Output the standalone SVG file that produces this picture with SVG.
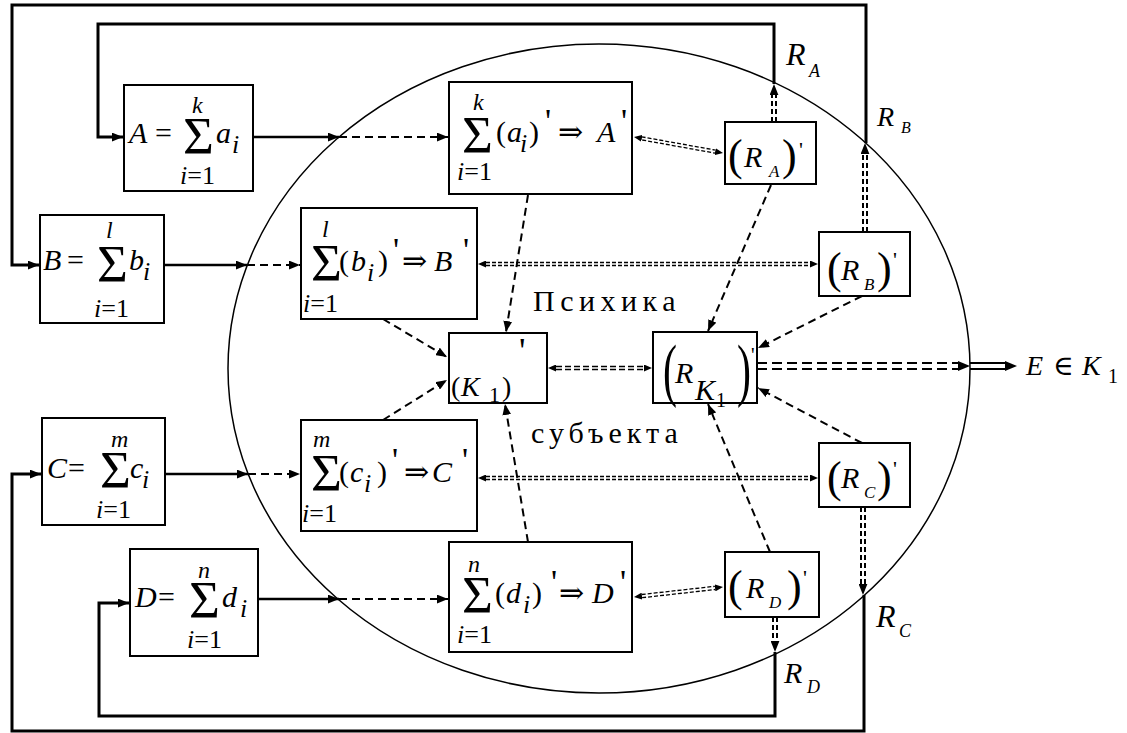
<svg xmlns="http://www.w3.org/2000/svg" width="1127" height="733" viewBox="0 0 1127 733" font-family="'Liberation Serif', 'Times New Roman', 'DejaVu Serif', serif">
<style>
.box{fill:#fff;stroke:#000;stroke-width:2}
.fb{fill:none;stroke:#000;stroke-width:3}
.so{fill:none;stroke:#000;stroke-width:2.5}
.da{fill:none;stroke:#000;stroke-width:2;stroke-dasharray:8 5}
.dd{fill:none;stroke:#000;stroke-width:1.3;stroke-dasharray:4 2}
.dv{fill:none;stroke:#000;stroke-width:2;stroke-dasharray:5 3}
.dk{fill:none;stroke:#000;stroke-width:1.6;stroke-dasharray:6 3}
.de{fill:none;stroke:#000;stroke-width:2.2;stroke-dasharray:10 5}
.sd{fill:none;stroke:#000;stroke-width:2}
.g{fill:none;stroke:none}
.i{font-style:italic}
.f16{font-size:16px}.f17{font-size:17px}.f18{font-size:18px}.f20{font-size:20px}.f22{font-size:22px}
.f24{font-size:24px}.f26{font-size:26px}.f28{font-size:28px}.f30{font-size:30px}.f32{font-size:32px}
.pr{font-size:34px}
.sig{font-size:53px}
.par{font-size:44px}
.lbl{font-size:30px;letter-spacing:5.5px}
.lbl2{font-size:30px;letter-spacing:5px}
</style>
<defs>
<marker id="ah" viewBox="0 0 10 8" refX="10" refY="4" markerWidth="11" markerHeight="9" markerUnits="userSpaceOnUse" orient="auto-start-reverse"><path d="M0,0L10,4L0,8z" fill="#000"/></marker>
<marker id="ahs" viewBox="0 0 8 7" refX="8" refY="3.5" markerWidth="8" markerHeight="7" markerUnits="userSpaceOnUse" orient="auto-start-reverse"><path d="M0,0L8,3.5L0,7z" fill="#000"/></marker>
<marker id="ahl" viewBox="0 0 12 10" refX="12" refY="5" markerWidth="12" markerHeight="10" markerUnits="userSpaceOnUse" orient="auto-start-reverse"><path d="M0,0L12,5L0,10z" fill="#000"/></marker>
</defs>
<rect width="1127" height="733" fill="#fff"/>
<ellipse id="psyche" cx="599" cy="368.5" rx="371" ry="324.5" fill="none" stroke="#000" stroke-width="1.5"/>
<g id="connectors">
<path class="fb" d="M774,84 V24 H98 V137 H123" marker-end="url(#ah)"/>
<path class="fb" d="M866,143 V5 H12 V265 H39" marker-end="url(#ah)"/>
<path class="fb" d="M864,595 V731 H12 V474 H41" marker-end="url(#ah)"/>
<path class="fb" d="M775,652 V716 H99 V603 H129" marker-end="url(#ah)"/>
<path class="so" d="M253,137 H339" marker-end="url(#ah)"/>
<path class="so" d="M164,265 H247" marker-end="url(#ah)"/>
<path class="so" d="M165,474 H248" marker-end="url(#ah)"/>
<path class="so" d="M258,599 H339" marker-end="url(#ah)"/>
<path class="da" d="M339,137 H448" marker-end="url(#ah)"/>
<path class="da" d="M247,265 H300" marker-end="url(#ah)"/>
<path class="da" d="M248,474 H300" marker-end="url(#ah)"/>
<path class="da" d="M339,599 H448" marker-end="url(#ah)"/>
<path class="da" d="M528,195 L506,332" marker-end="url(#ah)"/>
<path class="da" d="M771,185 L708,331" marker-end="url(#ah)"/>
<path class="da" d="M383,319 L447,357" marker-end="url(#ah)"/>
<path class="da" d="M383,420 L447,380" marker-end="url(#ah)"/>
<path class="da" d="M528,542 L505,404" marker-end="url(#ah)"/>
<path class="da" d="M862,296 L758,348" marker-end="url(#ah)"/>
<path class="da" d="M862,443 L758,388" marker-end="url(#ah)"/>
<path class="da" d="M770,552 L708,404" marker-end="url(#ah)"/>
<path class="dv" d="M772,122 V94 M776,122 V94"/>
<path class="g" d="M774,122 V84" marker-end="url(#ah)"/>
<path class="dv" d="M863,232 V153 M867,232 V153"/>
<path class="g" d="M865,232 V143" marker-end="url(#ah)"/>
<path class="dv" d="M861,507 V585 M865,507 V585"/>
<path class="g" d="M863,507 V595" marker-end="url(#ah)"/>
<path class="dv" d="M773,617 V642 M777,617 V642"/>
<path class="g" d="M775,617 V652" marker-end="url(#ah)"/>
<path class="dk" d="M556,366.5 H644 M556,369.5 H644"/>
<path class="g" d="M548,368 H652" marker-start="url(#ahs)" marker-end="url(#ahs)"/>
<path class="de" d="M757,363 H958 M757,369 H958"/>
<path class="g" d="M757,366 H970" marker-end="url(#ahl)"/>
<path class="sd" d="M970,363 H1006 M970,369 H1006"/>
<path class="g" d="M970,366 H1017" marker-end="url(#ahl)"/>
<path class="dd" d="M486,262.5 H810 M486,265.5 H810"/>
<path class="g" d="M478,264 H818" marker-start="url(#ahs)" marker-end="url(#ahs)"/>
<path class="dd" d="M486,476.5 H810 M486,479.5 H810"/>
<path class="g" d="M478,478 H818" marker-start="url(#ahs)" marker-end="url(#ahs)"/>
<path class="dd" d="M641.6,136.8 L714.8,150 M642.2,140 L715.4,153.2"/>
<path class="g" d="M634,137 L723,153" marker-start="url(#ahs)" marker-end="url(#ahs)"/>
<path class="dd" d="M641.7,594.5 L714.9,586.3 M642.1,597.7 L715.3,589.5"/>
<path class="g" d="M634,597 L723,587" marker-start="url(#ahs)" marker-end="url(#ahs)"/>
</g>
<g id="nodeA">
<rect class="box" x="124" y="85" width="129" height="106"/>
<text class="i f30" x="129" y="143">A</text>
<text class="f30" x="155" y="143">=</text>
<text class="sig" x="183" y="154">Σ</text>
<text class="i f30" x="216" y="143">a</text>
<text class="i f26" x="232" y="153">i</text>
<text class="i f24" x="192" y="113">k</text>
<text class="f26" x="180" y="184"><tspan class="i">i</tspan>=1</text>
</g>
<g id="nodeB">
<rect class="box" x="40" y="215" width="124" height="108"/>
<text class="i f30" x="43" y="270">B</text>
<text class="f30" x="67" y="270">=</text>
<text class="sig" x="97" y="282">Σ</text>
<text class="i f30" x="129" y="270">b</text>
<text class="i f26" x="143" y="280">i</text>
<text class="i f24" x="106" y="238">l</text>
<text class="f26" x="94" y="317"><tspan class="i">i</tspan>=1</text>
</g>
<g id="nodeC">
<rect class="box" x="42" y="418" width="123" height="107"/>
<text class="i f30" x="47" y="478">C</text>
<text class="f30" x="68" y="478">=</text>
<text class="sig" x="100" y="488">Σ</text>
<text class="i f30" x="130" y="478">c</text>
<text class="i f26" x="142" y="488">i</text>
<text class="i f24" x="111" y="447">m</text>
<text class="f26" x="96" y="518"><tspan class="i">i</tspan>=1</text>
</g>
<g id="nodeD">
<rect class="box" x="130" y="549" width="128" height="107"/>
<text class="i f30" x="135" y="607">D</text>
<text class="f30" x="158" y="607">=</text>
<text class="sig" x="189" y="618">Σ</text>
<text class="i f30" x="222" y="607">d</text>
<text class="i f26" x="240" y="617">i</text>
<text class="i f24" x="198" y="578">n</text>
<text class="f26" x="187" y="648"><tspan class="i">i</tspan>=1</text>
</g>
<g id="nodeA2">
<rect class="box" x="449" y="82" width="183" height="112"/>
<text class="i f24" x="473" y="110">k</text>
<text class="sig" x="462" y="153">Σ</text>
<text class="f30" x="496" y="142">(</text>
<text class="i f30" x="507" y="142">a</text>
<text class="i f26" x="520" y="152">i</text>
<text class="f30" x="529" y="142">)</text>
<text class="pr" x="545" y="132">'</text>
<text class="f30" x="558" y="142">⇒</text>
<text class="i f30" x="597" y="142">A</text>
<text class="pr" x="621" y="132">'</text>
<text class="f26" x="457" y="180"><tspan class="i">i</tspan>=1</text>
</g>
<g id="nodeB2">
<rect class="box" x="301" y="208" width="176" height="111"/>
<text class="i f24" x="322" y="237">l</text>
<text class="sig" x="311" y="281">Σ</text>
<text class="f30" x="339" y="271">(</text>
<text class="i f30" x="351" y="271">b</text>
<text class="i f26" x="367" y="281">i</text>
<text class="f30" x="378" y="271">)</text>
<text class="pr" x="393" y="261">'</text>
<text class="f30" x="402" y="271">⇒</text>
<text class="i f30" x="434" y="271">B</text>
<text class="pr" x="463" y="261">'</text>
<text class="f26" x="303" y="312"><tspan class="i">i</tspan>=1</text>
</g>
<g id="nodeC2">
<rect class="box" x="301" y="420" width="176" height="111"/>
<text class="i f24" x="313" y="447">m</text>
<text class="sig" x="311" y="491">Σ</text>
<text class="f30" x="339" y="482">(</text>
<text class="i f30" x="350" y="482">c</text>
<text class="i f26" x="364" y="492">i</text>
<text class="f30" x="377" y="482">)</text>
<text class="pr" x="392" y="471">'</text>
<text class="f30" x="404" y="482">⇒</text>
<text class="i f30" x="432" y="482">C</text>
<text class="pr" x="462" y="471">'</text>
<text class="f26" x="302" y="522"><tspan class="i">i</tspan>=1</text>
</g>
<g id="nodeD2">
<rect class="box" x="449" y="542" width="183" height="110"/>
<text class="i f24" x="468" y="572">n</text>
<text class="sig" x="462" y="613">Σ</text>
<text class="f30" x="495" y="603">(</text>
<text class="i f30" x="506" y="603">d</text>
<text class="i f26" x="523" y="613">i</text>
<text class="f30" x="532" y="603">)</text>
<text class="pr" x="551" y="593">'</text>
<text class="f30" x="559" y="603">⇒</text>
<text class="i f30" x="592" y="603">D</text>
<text class="pr" x="620" y="593">'</text>
<text class="f26" x="457" y="643"><tspan class="i">i</tspan>=1</text>
</g>
<g id="nodeRA">
<rect class="box" x="725" y="122" width="91" height="62"/>
<text class="par" x="728" y="170">(</text>
<text class="i f30" x="744" y="167">R</text>
<text class="i f17" x="769" y="177">A</text>
<text class="par" x="782" y="170">)</text>
<text class="f22" x="799" y="157">'</text>
</g>
<g id="nodeRB">
<rect class="box" x="819" y="232" width="91" height="64"/>
<text class="par" x="827" y="283">(</text>
<text class="i f30" x="841" y="280">R</text>
<text class="i f17" x="864" y="290">B</text>
<text class="par" x="877" y="283">)</text>
<text class="f22" x="893" y="267">'</text>
</g>
<g id="nodeRC">
<rect class="box" x="819" y="443" width="91" height="64"/>
<text class="par" x="827" y="492">(</text>
<text class="i f30" x="841" y="488">R</text>
<text class="i f17" x="864" y="498">C</text>
<text class="par" x="877" y="492">)</text>
<text class="f22" x="893" y="476">'</text>
</g>
<g id="nodeRD">
<rect class="box" x="725" y="552" width="94" height="65"/>
<text class="par" x="728" y="601">(</text>
<text class="i f30" x="746" y="598">R</text>
<text class="i f17" x="769" y="608">D</text>
<text class="par" x="787" y="601">)</text>
<text class="f22" x="803" y="585">'</text>
</g>
<g id="nodeK1">
<rect class="box" x="449" y="333" width="98" height="70"/>
<text class="f28" x="451" y="396">(</text>
<text class="i f28" x="461" y="396">K</text>
<text class="f22" x="489" y="402">1</text>
<text class="f28" x="502" y="396">)</text>
<text font-size="36" x="519" y="363">'</text>
</g>
<g id="nodeRK1">
<rect class="box" x="653" y="332" width="104" height="71"/>
<text font-size="70" transform="translate(663,393) scale(0.6,1)">(</text>
<text class="i f30" x="675" y="383">R</text>
<text class="i f30" x="695" y="400">K</text>
<text class="f20" x="716" y="407">1</text>
<text font-size="70" transform="translate(737,393) scale(0.6,1)">)</text>
<text class="f20" x="751" y="362">'</text>
</g>
<g id="labels">
<text class="lbl" x="533" y="311">Психика</text>
<text class="lbl2" x="531" y="443">субъекта</text>
<text class="i f32" x="786" y="65">R</text><text class="i f18" x="809" y="77">A</text>
<text class="i f28" x="877" y="126">R</text><text class="i f16" x="901" y="133">B</text>
<text class="i f32" x="876" y="627">R</text><text class="i f18" x="899" y="637">C</text>
<text class="i f30" x="784" y="683">R</text><text class="i f18" x="807" y="693">D</text>
<text class="i f28" x="1026" y="375">E</text>
<text class="f28" x="1053" y="375">∈</text>
<text class="i f28" x="1082" y="375">K</text>
<text class="f20" x="1108" y="383">1</text>
</g>
</svg>
